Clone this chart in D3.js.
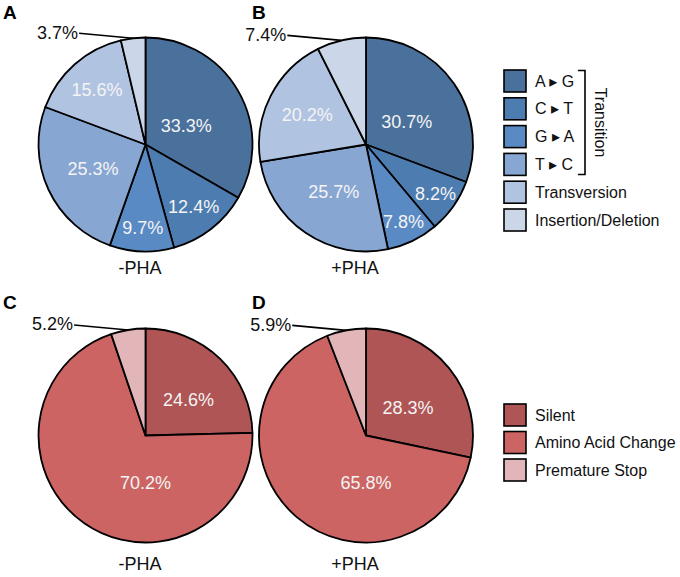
<!DOCTYPE html>
<html>
<head>
<meta charset="utf-8">
<script src="https://cdn.jsdelivr.net/npm/d3@7"></script>
<style>
  html, body { margin: 0; padding: 0; background: #fff; }
  svg { display: block; font-family: "Liberation Sans", Arial, "DejaVu Sans", sans-serif; }
</style>
</head>
<body>
<svg id="chart" width="680" height="577"></svg>
<script>
// ---------- DATA ----------
const mutationTypes = ["A \u25B8 G", "C \u25B8 T", "G \u25B8 A", "T \u25B8 C", "Transversion", "Insertion/Deletion"];
const mutationTypeMinusPHA = [33.3, 12.4, 9.7, 25.3, 15.6, 3.7];
const mutationTypePlusPHA = [30.7, 8.2, 7.8, 25.7, 20.2, 7.4];

const effectTypes = ["Silent", "Amino Acid Change", "Premature Stop"];
const effectMinusPHA = [24.6, 70.2, 5.2];
const effectPlusPHA = [28.3, 65.8, 5.9];

const panelLetters = ["A", "B", "C", "D"];
const conditionLabels = ["-PHA", "+PHA"];
const bracketLabel = "Transition";

// ---------- STYLE ----------
const blueColors = ["#4a709c", "#4d7cb0", "#5a8ac4", "#88a6d2", "#b0c3e1", "#cbd6e8"];
const redColors = ["#af5555", "#cc6463", "#e2b6b8"];

const svg = d3.select("#chart");
const R = 107;

const pie = d3.pie().sort(null).value(d => d);
const arc = d3.arc().innerRadius(0).outerRadius(R);

function drawPie(values, color, cx, cy, letter, letterX, letterY, cond, condX, condY) {
  const g = svg.append("g").attr("transform", `translate(${cx},${cy})`);
  const arcs = pie(values);
  g.selectAll("path.slice").data(arcs).enter().append("path")
    .attr("class", "slice")
    .attr("d", arc)
    .attr("fill", (d, i) => color(i))
    .attr("stroke", "#000")
    .attr("stroke-width", 1.8)
    .attr("stroke-linejoin", "round");

  const last = arcs.length - 1;
  arcs.forEach((d, i) => {
    const pct = d.data;
    const label = pct.toFixed(1) + "%";
    if (i === last) {
      // outside label with leader line
      const mid = (d.startAngle + d.endAngle) / 2;
      const px = R * Math.sin(mid), py = -R * Math.cos(mid);
      const lx = px - 54, ly = py - 5;
      g.append("line")
        .attr("x1", lx).attr("y1", ly).attr("x2", px).attr("y2", py)
        .attr("stroke", "#000").attr("stroke-width", 1.6);
      g.append("text")
        .attr("x", lx - 1).attr("y", ly - 1)
        .attr("dy", "0.35em")
        .attr("text-anchor", "end")
        .attr("font-size", 18)
        .attr("fill", "#111")
        .text(label);
    } else {
      let mid = (d.startAngle + d.endAngle) / 2;
      let lr = R * Math.max(0.44, 0.92 - 0.015 * pct);
      if (pct > 50) { mid = Math.PI; lr = 0.44 * R; }
      else if (pct > 20 && mid < Math.PI / 2) { mid = mid + 0.1; lr = lr * 0.95; }
      g.append("text")
        .attr("x", lr * Math.sin(mid))
        .attr("y", -lr * Math.cos(mid))
        .attr("dy", "0.35em")
        .attr("text-anchor", "middle")
        .attr("font-size", 18)
        .attr("fill", "#f4f4f4")
        .text(label);
    }
  });

  svg.append("text")
    .attr("x", letterX).attr("y", letterY)
    .attr("font-size", 19).attr("font-weight", "bold").attr("fill", "#000")
    .text(letter);

  svg.append("text")
    .attr("x", condX).attr("y", condY)
    .attr("text-anchor", "middle")
    .attr("font-size", 18).attr("fill", "#111")
    .text(cond);
}

const blueScale = d3.scaleOrdinal().domain(d3.range(mutationTypes.length)).range(blueColors);
const redScale = d3.scaleOrdinal().domain(d3.range(effectTypes.length)).range(redColors);

drawPie(mutationTypeMinusPHA, blueScale, 145.5, 144.5, panelLetters[0], 3, 18.5, conditionLabels[0], 140, 274);
drawPie(mutationTypePlusPHA, blueScale, 366, 144.5, panelLetters[1], 252, 18.5, conditionLabels[1], 355, 274);
drawPie(effectMinusPHA, redScale, 145.5, 435.5, panelLetters[2], 3, 309, conditionLabels[0], 140, 570);
drawPie(effectPlusPHA, redScale, 366, 435.5, panelLetters[3], 252, 309, conditionLabels[1], 355, 570);

// ---------- LEGENDS ----------
function drawLegend(items, color, x0, y0, step) {
  const lg = svg.append("g").attr("transform", `translate(${x0},${y0})`);
  const rows = lg.selectAll("g.row").data(items).enter().append("g")
    .attr("class", "row")
    .attr("transform", (d, i) => `translate(0,${i * step})`);
  rows.append("rect")
    .attr("x", 0).attr("y", 0).attr("width", 22).attr("height", 22)
    .attr("fill", (d, i) => color(i))
    .attr("stroke", "#000").attr("stroke-width", 1.6);
  rows.append("text")
    .attr("x", 31).attr("y", 11).attr("dy", "0.35em")
    .attr("font-size", 16).attr("fill", "#111")
    .text(d => d);
  return lg;
}

drawLegend(mutationTypes, blueScale, 504, 70, 27.8);
drawLegend(effectTypes, redScale, 504, 404, 27.5);

// bracket for transitions
const bx = 585, bTop = 70.5, bBot = 174.5;
svg.append("path")
  .attr("d", `M${bx - 7},${bTop} H${bx} V${bBot} H${bx - 7}`)
  .attr("fill", "none").attr("stroke", "#000").attr("stroke-width", 1.6);
svg.append("text")
  .attr("transform", `translate(${bx + 8},${(bTop + bBot) / 2}) rotate(90)`)
  .attr("text-anchor", "middle")
  .attr("dy", "-0.1em")
  .attr("font-size", 16).attr("fill", "#111")
  .text(bracketLabel);
</script>
</body>
</html>
